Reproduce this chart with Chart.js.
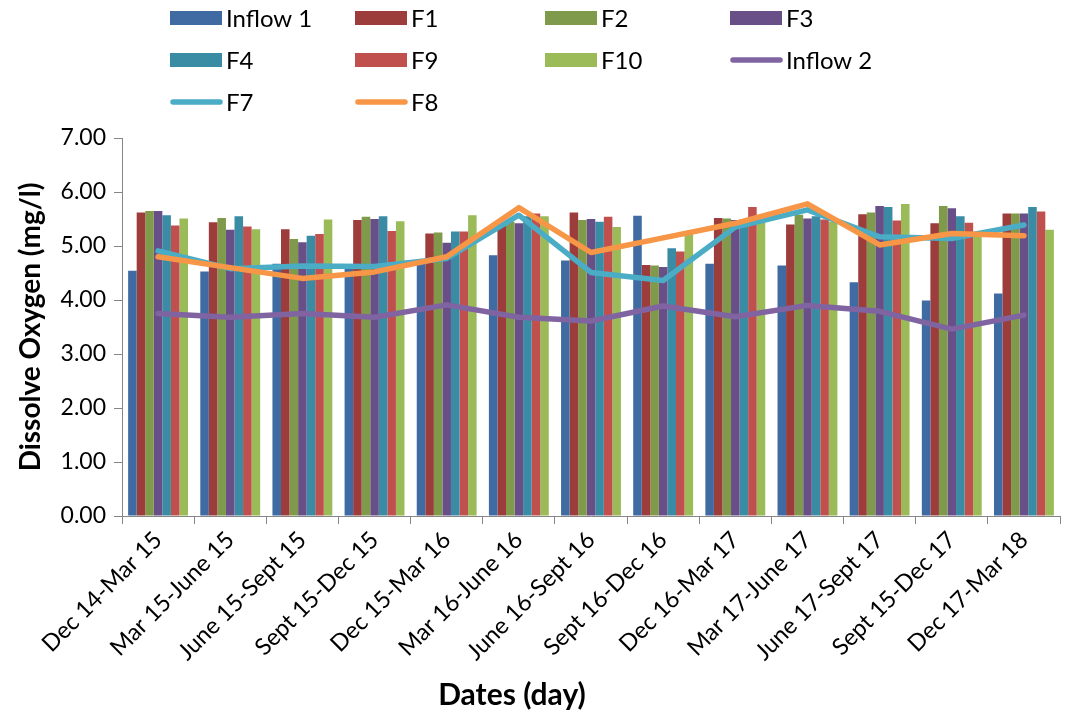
<!DOCTYPE html>
<html>
<head>
<meta charset="utf-8">
<script src="https://cdn.jsdelivr.net/npm/chart.js@4/dist/chart.umd.min.js"></script>
<style>
  html, body { margin: 0; padding: 0; background: #ffffff; }
  #wrap { width: 1071px; height: 717px; position: relative; }
</style>
</head>
<body>
<div id="wrap"><canvas id="c" width="1071" height="717"></canvas></div>
<script>
// Sampling periods (category axis)
const periods = [
  'Dec 14-Mar 15', 'Mar 15-June 15', 'June 15-Sept 15', 'Sept 15-Dec 15',
  'Dec 15-Mar 16', 'Mar 16-June 16', 'June 16-Sept 16', 'Sept 16-Dec 16',
  'Dec 16-Mar 17', 'Mar 17-June 17', 'June 17-Sept 17', 'Sept 15-Dec 17',
  'Dec 17-Mar 18'
];

// Dissolved oxygen (mg/l) per sampling point
const inflow1 = [4.54, 4.53, 4.67, 4.62, 4.72, 4.83, 4.73, 5.56, 4.67, 4.64, 4.33, 3.99, 4.12];
const f1      = [5.62, 5.44, 5.31, 5.48, 5.23, 5.42, 5.62, 4.65, 5.52, 5.40, 5.59, 5.42, 5.60];
const f2      = [5.65, 5.52, 5.13, 5.54, 5.25, 5.45, 5.48, 4.64, 5.51, 5.58, 5.62, 5.74, 5.60];
const f3      = [5.65, 5.30, 5.07, 5.50, 5.06, 5.42, 5.50, 4.61, 5.48, 5.51, 5.74, 5.70, 5.60];
const f4      = [5.57, 5.55, 5.19, 5.55, 5.27, 5.55, 5.45, 4.96, 5.49, 5.55, 5.72, 5.55, 5.72];
const f9      = [5.38, 5.36, 5.22, 5.28, 5.27, 5.60, 5.54, 4.90, 5.72, 5.49, 5.47, 5.43, 5.64];
const f10     = [5.51, 5.31, 5.49, 5.46, 5.57, 5.55, 5.35, 5.22, 5.58, 5.45, 5.78, 5.18, 5.30];
const inflow2 = [3.75, 3.68, 3.75, 3.68, 3.91, 3.68, 3.61, 3.89, 3.69, 3.90, 3.79, 3.46, 3.72];
const f7      = [4.91, 4.58, 4.63, 4.62, 4.77, 5.57, 4.51, 4.36, 5.35, 5.67, 5.17, 5.14, 5.39];
const f8      = [4.80, 4.60, 4.40, 4.52, 4.80, 5.71, 4.88, 5.15, 5.42, 5.78, 5.02, 5.23, 5.19];

// Y axis range and tick step
const yMin = 0, yMax = 7, yStep = 1;

const FONT = 'Lato, "Open Sans", sans-serif';
const AXIS_GREY = '#868686';

function barSet(label, data, color) {
  return {
    type: 'bar', label, data,
    backgroundColor: color, borderWidth: 0,
    categoryPercentage: 0.83, barPercentage: 1.0,
    order: 5
  };
}
function lineSet(label, data, color, order) {
  return {
    type: 'line', label, data,
    borderColor: color, backgroundColor: color,
    borderWidth: 5.5, pointRadius: 0, pointHoverRadius: 0,
    tension: 0, fill: false,
    borderCapStyle: 'round', borderJoinStyle: 'round',
    order
  };
}

// Legend drawn as a fixed 4-column grid above the plot
const gridLegend = {
  id: 'gridLegend',
  afterDraw(chart) {
    const ctx = chart.ctx;
    const cols = [170, 355, 545, 730];
    const rows = [18, 60, 102];
    ctx.save();
    ctx.font = '24px ' + FONT;
    ctx.textBaseline = 'middle';
    ctx.textAlign = 'left';
    chart.data.datasets.forEach((ds, i) => {
      const x = cols[i % 4];
      const y = rows[Math.floor(i / 4)];
      if (ds.type === 'line') {
        ctx.strokeStyle = ds.borderColor;
        ctx.lineWidth = 5.5;
        ctx.lineCap = 'round';
        ctx.beginPath();
        ctx.moveTo(x + 3, y);
        ctx.lineTo(x + 50, y);
        ctx.stroke();
      } else {
        ctx.fillStyle = ds.backgroundColor;
        ctx.fillRect(x, y - 7, 52, 14);
      }
      ctx.fillStyle = '#000000';
      ctx.fillText(ds.label, x + 56, y + 1);
    });
    ctx.restore();
  }
};

// Horizontal axis title
const xTitle = {
  id: 'xTitle',
  afterDraw(chart) {
    const ctx = chart.ctx;
    ctx.save();
    ctx.font = 'bold 30px ' + FONT;
    ctx.fillStyle = '#000000';
    ctx.textAlign = 'center';
    ctx.textBaseline = 'middle';
    ctx.fillText('Dates (day)', 512, 695);
    ctx.restore();
  }
};

new Chart(document.getElementById('c'), {
  type: 'bar',
  data: {
    labels: periods,
    datasets: [
      barSet('Inflow 1', inflow1, '#3F6BA2'),
      barSet('F1', f1, '#9C3D3B'),
      barSet('F2', f2, '#7F9A4A'),
      barSet('F3', f3, '#684F87'),
      barSet('F4', f4, '#3A8BA4'),
      barSet('F9', f9, '#C0504D'),
      barSet('F10', f10, '#9BBB59'),
      lineSet('Inflow 2', inflow2, '#8064A2', 2),
      lineSet('F7', f7, '#4BACC6', 1),
      lineSet('F8', f8, '#F79646', 0)
    ]
  },
  options: {
    responsive: false,
    devicePixelRatio: 1,
    animation: false,
    layout: { padding: { top: 138, right: 11, left: 0, bottom: 0 } },
    plugins: {
      legend: { display: false },
      tooltip: { enabled: false },
      title: { display: false }
    },
    scales: {
      x: {
        offset: true,
        grid: { display: true, drawOnChartArea: false, drawTicks: true, tickLength: 8, color: AXIS_GREY, offset: true },
        border: { color: AXIS_GREY, width: 1 },
        ticks: {
          maxRotation: 45, minRotation: 45, autoSkip: false,
          font: { family: FONT, size: 23.5 }, color: '#000000', padding: 2
        },
        afterFit(scale) { scale.height = 201; }
      },
      y: {
        min: yMin, max: yMax,
        grid: { display: true, drawOnChartArea: false, drawTicks: true, tickLength: 8, color: AXIS_GREY },
        border: { color: AXIS_GREY, width: 1 },
        ticks: {
          stepSize: yStep,
          callback: v => Number(v).toFixed(2),
          font: { family: FONT, size: 23 }, color: '#000000', padding: 8
        },
        title: {
          display: true, text: 'Dissolve Oxygen (mg/l)',
          font: { family: FONT, size: 28, weight: 'bold' }, color: '#000000',
          padding: { top: 14, bottom: 0 }
        },
        afterFit(scale) { scale.width = 122; }
      }
    }
  },
  plugins: [gridLegend, xTitle]
});
</script>
</body>
</html>
